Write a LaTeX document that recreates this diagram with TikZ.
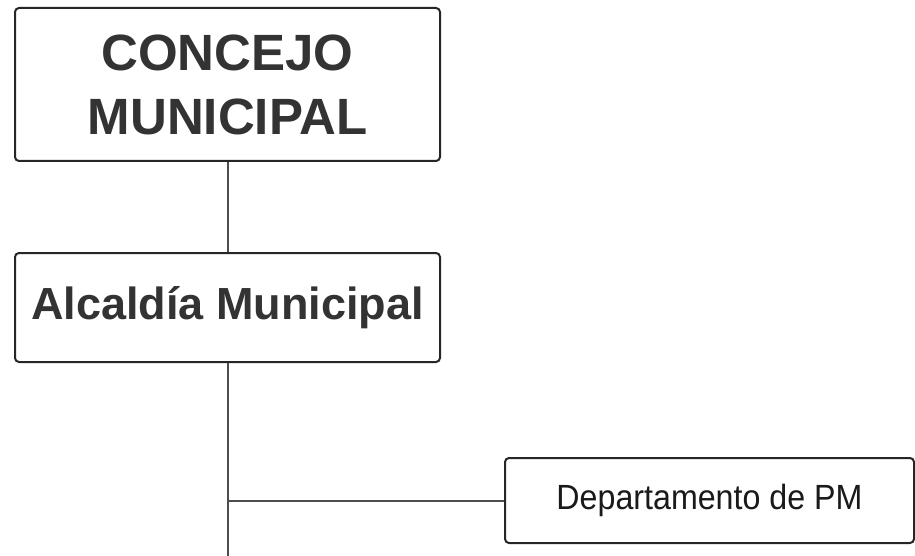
\documentclass[tikz,border=0pt]{standalone}
\usepackage{fontspec}
\setmainfont{Liberation Sans}
\newfontfamily\narrowfont[FakeStretch=0.92]{Liberation Sans}
\usepackage{xcolor}
\usetikzlibrary{positioning}
\definecolor{boxline}{HTML}{262626}
\definecolor{textgray}{HTML}{333333}
\definecolor{textdark}{HTML}{1A1A1A}
\definecolor{linegray}{HTML}{4D4D4D}
\begin{document}
\begin{tikzpicture}[x=1pt, y=-1pt]
        % Define styles
        \tikzset{
            unit/.style={rectangle, rounded corners=4pt, draw=boxline, line width=2pt, fill=white, text=textgray, align=center, inner sep=0pt},
            link/.style={draw=linegray, line width=2pt}
        }
        \useasboundingbox (0,0) rectangle (915,556);

        % Create nodes
        \node [unit, minimum width=425pt, minimum height=153pt, font=\fontsize{51}{64}\selectfont\bfseries] (concejo) at (227.5,84.5) {CONCEJO\\MUNICIPAL};
        \node [unit, minimum width=425pt, minimum height=109pt, font=\fontsize{45}{50}\selectfont\bfseries] (alcaldia) at (227.5,307.5) {Alcald\'ia Municipal};
        \node [unit, minimum width=409pt, minimum height=85pt, text=textdark, font=\narrowfont\fontsize{35}{40}\selectfont] (depto) at (709.5,500.5) {Departamento de PM};
        \coordinate (bottom) at (227.5,556);
        \coordinate (branch) at (alcaldia.south |- depto.west);

        % Create links
        \draw [link] (concejo) -- (alcaldia);
        \draw [link] (alcaldia) -- (bottom);
        \draw [link] (branch) -- (depto);
    \end{tikzpicture}
\end{document}
